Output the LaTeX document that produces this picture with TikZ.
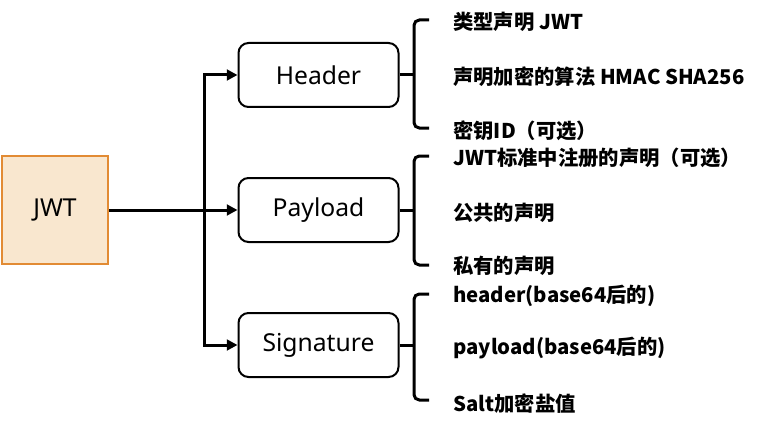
\documentclass[tikz,border=0pt]{standalone}
\usepackage{fontspec}
\setmainfont{Noto Sans CJK SC}
\newfontfamily\boxfont{Noto Sans}
\usetikzlibrary{arrows.meta}
\definecolor{jwtfill}{RGB}{249,231,207}
\definecolor{jwtborder}{RGB}{226,139,52}
\begin{document}
\begin{tikzpicture}[x=0.75pt,y=-0.75pt,
  conn/.style={line width=2.25pt},
  arr/.style={conn,-{Triangle[length=8pt,width=8pt]}},
  boxlabel/.style={font=\boxfont\fontsize{18.5}{20}\selectfont},
  box/.style={draw,line width=1.5pt,rounded corners=7.5pt,minimum width=120pt,minimum height=48pt,boxlabel},
  item/.style={anchor=west,inner sep=0pt,font=\bfseries\fontsize{15.25}{17}\selectfont},
  bracket/.style={line width=2.25pt,rounded corners=4pt}]
\useasboundingbox (0,0) rectangle (764,428);
\node[draw=jwtborder,fill=jwtfill,line width=1.5pt,minimum width=79.5pt,minimum height=81pt,boxlabel] (jwt) at (55,210) {JWT};
\node[box] (header) at (318.5,75) {Header};
\node[box] (payload) at (318.5,210) {Payload};
\node[box] (sig) at (318.5,345) {Signature};
\coordinate (split) at (204,210);
\draw[arr] (jwt.east) -- (payload.west);
\draw[arr] (split) |- (header.west);
\draw[arr] (split) |- (sig.west);
% header bracket
\coordinate (hm) at (414,75);
\coordinate (ht) at (429,20);
\coordinate (hb) at (429,128);
\draw[conn] (header.east) -- (hm);
\draw[bracket] (ht) -| (hm) |- (hb);
% payload bracket
\coordinate (pm) at (414,210);
\coordinate (pt) at (429,156);
\coordinate (pb) at (429,265);
\draw[conn] (payload.east) -- (pm);
\draw[bracket] (pt) -| (pm) |- (pb);
% signature bracket
\coordinate (sm) at (414,345);
\coordinate (st) at (429,294);
\coordinate (sb) at (429,400);
\draw[conn] (sig.east) -- (sm);
\draw[bracket] (st) -| (sm) |- (sb);
% items
\node[item] (h1) at (453,22) {类型声明 JWT};
\node[item] (h2) at (453,77) {声明加密的算法 HMAC SHA256};
\node[item] (h3) at (453,131) {密钥ID（可选）};
\node[item] (p1) at (453,158) {JWT标准中注册的声明（可选）};
\node[item] (p2) at (453,213) {公共的声明};
\node[item] (p3) at (453,266) {私有的声明};
\node[item] (s1) at (453,296) {header(base64后的)};
\node[item] (s2) at (453,348) {payload(base64后的)};
\node[item] (s3) at (453,404) {Salt加密盐值};
\end{tikzpicture}
\end{document}
